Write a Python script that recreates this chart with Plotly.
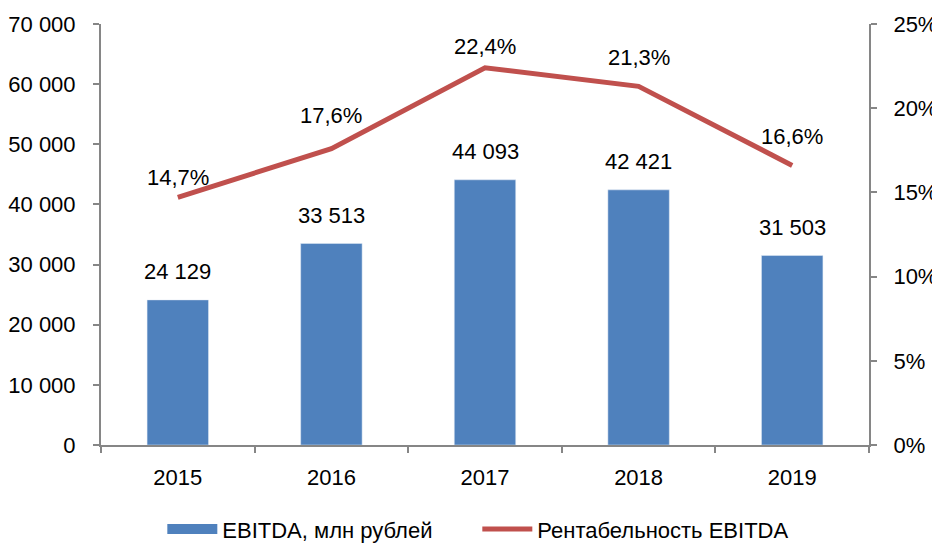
import plotly.graph_objects as go

years = ['2015', '2016', '2017', '2018', '2019']
ebitda = [24129, 33513, 44093, 42421, 31503]
margin = [0.147, 0.176, 0.224, 0.213, 0.166]

font_family = 'Liberation Sans, Arial'
axis_grey = '#868686'
blue = '#4F81BD'
red = '#C0504D'

bars = go.Bar(
    x=years, y=ebitda,
    name='EBITDA, млн рублей',
    marker=dict(color=blue),
    width=0.4,
    legendgroup='ebitda', showlegend=False,
)
# legend entry for the bars: a thick block like in Excel
bars_key = go.Scatter(
    x=[None], y=[None], mode='lines',
    name='EBITDA, млн рублей',
    line=dict(color=blue, width=14),
    legendgroup='ebitda',
)

line = go.Scatter(
    x=years, y=margin,
    name='Рентабельность EBITDA',
    yaxis='y2',
    mode='lines',
    line=dict(color=red, width=5),
    cliponaxis=False,
)

# value labels (Excel-style, floating above the marks)
# x is given as category index, numeric-looking names would be read as indices
annotations = []
for i, v in enumerate(ebitda):
    annotations.append(dict(
        x=i, y=v, xref='x', yref='y',
        text=f'{v:,}'.replace(',', ' '),
        showarrow=False, yshift=28, yanchor='middle',
        font=dict(size=22, color='black'),
    ))
line_shift = [20, 33, 21, 29, 29]
for i, (m, s) in enumerate(zip(margin, line_shift)):
    annotations.append(dict(
        x=i, y=m, xref='x', yref='y2',
        text=f'{m * 100:.1f}%'.replace('.', ','),
        showarrow=False, yshift=s, yanchor='middle',
        font=dict(size=22, color='black'),
    ))

axis_style = dict(
    showline=True, linecolor=axis_grey, linewidth=2,
    ticks='outside', ticklen=6, tickcolor=axis_grey, tickwidth=2,
    showgrid=False, zeroline=False,
)

# page body has an 8px default margin, so the figure is 8px smaller
layout = go.Layout(
    width=932, height=536,
    margin=dict(l=93, r=71, t=16, b=99, autoexpand=False),
    plot_bgcolor='white',
    paper_bgcolor='white',
    separators=', ',
    font=dict(family=font_family, size=22, color='black'),
    showlegend=True,
    legend=dict(orientation='h', x=0.49, xanchor='center', y=-0.2, yanchor='middle',
                font=dict(size=22), itemwidth=50, entrywidth=250, tracegroupgap=0),
    annotations=annotations,
    xaxis=dict(type='category', range=[-0.5, 4.5], tickson='boundaries',
               ticklabelstandoff=12, **axis_style),
    yaxis=dict(range=[0, 70000], dtick=10000, tickformat=',d',
               ticklabelstandoff=13, **axis_style),
    yaxis2=dict(range=[0, 0.25], dtick=0.05, tickformat='.0%',
                overlaying='y', side='right', ticklabelstandoff=12, **axis_style),
)

fig = go.Figure(data=[bars, bars_key, line], layout=layout)
fig.write_html("out.html")
